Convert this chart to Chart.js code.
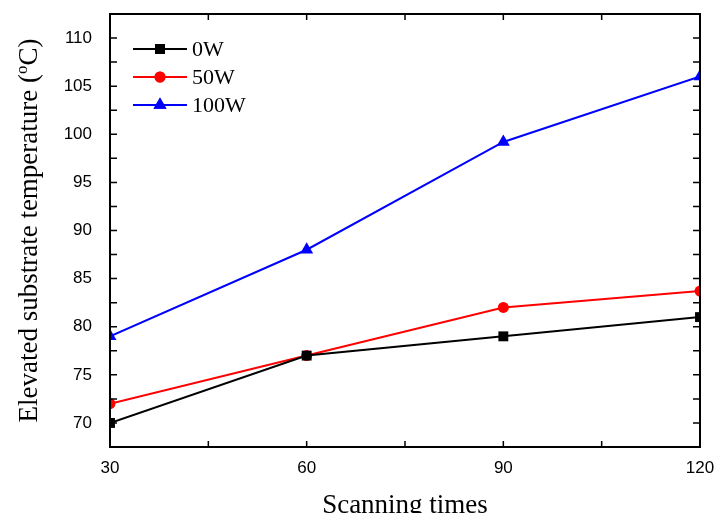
<!DOCTYPE html>
<html>
<head>
<meta charset="utf-8">
<script src="https://cdn.jsdelivr.net/npm/chart.js@4.4.1/dist/chart.umd.min.js"></script>
<style>
  html, body { margin: 0; padding: 0; background: #fff; }
  #wrap { width: 714px; height: 513px; }
</style>
</head>
<body>
<div id="wrap"><canvas id="chart" width="714" height="513"></canvas></div>
<script>
// data
const scanTimes = [30, 60, 90, 120];
const temp0W = [70, 77, 79, 81];
const temp50W = [72, 77, 82, 83.7];
const temp100W = [79, 88, 99.2, 106];
const seriesNames = ['0W', '50W', '100W'];
const xTickLabels = [30, 60, 90, 120];
const yTickLabels = [70, 75, 80, 85, 90, 95, 100, 105, 110];

const toXY = (ys) => ys.map((y, i) => ({ x: scanTimes[i], y: y }));

// inner ticks on all four sides + frame
const frameTicks = {
    id: 'frameTicks',
    afterDraw(chart) {
        const { ctx, chartArea: a, scales } = chart;
        ctx.save();
        ctx.strokeStyle = '#000';
        ctx.lineWidth = 2;
        ctx.strokeRect(a.left, a.top, a.right - a.left, a.bottom - a.top);
        ctx.lineWidth = 1.5;
        ctx.beginPath();
        for (let v = 45; v < 120; v += 15) {
            const px = scales.x.getPixelForValue(v);
            ctx.moveTo(px, a.bottom); ctx.lineTo(px, a.bottom - 6);
            ctx.moveTo(px, a.top); ctx.lineTo(px, a.top + 6);
        }
        for (let v = 70; v <= 110; v += 2.5) {
            const py = scales.y.getPixelForValue(v);
            ctx.moveTo(a.left, py); ctx.lineTo(a.left + 7, py);
            ctx.moveTo(a.right, py); ctx.lineTo(a.right - 7, py);
        }
        ctx.stroke();
        ctx.restore();
    }
};

// legend (line-marker-line) and the y title with superscript
const extras = {
    id: 'extras',
    afterDraw(chart) {
        const { ctx } = chart;
        ctx.save();
        chart.data.datasets.forEach((ds, i) => {
            const y = 49 + i * 28;
            ctx.strokeStyle = ds.borderColor;
            ctx.lineWidth = 2;
            ctx.beginPath();
            ctx.moveTo(133, y); ctx.lineTo(187, y);
            ctx.stroke();
            ctx.fillStyle = ds.borderColor;
            Chart.helpers.drawPoint(ctx, {
                pointStyle: ds.pointStyle, radius: ds.pointRadius, rotation: 0, borderWidth: 0
            }, 160, y);
            ctx.fill();
            ctx.fillStyle = '#000';
            ctx.font = '22px "Liberation Serif", "Times New Roman", serif';
            ctx.textAlign = 'left';
            ctx.textBaseline = 'middle';
            ctx.fillText(ds.label, 192, y + 1);
        });

        const a = chart.chartArea;
        ctx.translate(37, (a.top + a.bottom) / 2);
        ctx.rotate(-Math.PI / 2);
        ctx.fillStyle = '#000';
        ctx.textBaseline = 'alphabetic';
        const big = '27px "Liberation Serif", "Times New Roman", serif';
        const small = '17px "Liberation Serif", "Times New Roman", serif';
        const p1 = 'Elevated substrate temperature (', p2 = 'o', p3 = 'C)';
        ctx.font = big;
        const w1 = ctx.measureText(p1).width, w3 = ctx.measureText(p3).width;
        ctx.font = small;
        const w2 = ctx.measureText(p2).width;
        let x = -(w1 + w2 + w3) / 2;
        ctx.font = big; ctx.fillText(p1, x, 0); x += w1;
        ctx.font = small; ctx.fillText(p2, x, -10); x += w2;
        ctx.font = big; ctx.fillText(p3, x, 0);
        ctx.restore();
    }
};

new Chart(document.getElementById('chart'), {
    type: 'line',
    data: {
        datasets: [
            { label: seriesNames[0], data: toXY(temp0W), borderColor: '#000000', backgroundColor: '#000000',
              pointStyle: 'rect', pointRadius: 7 },
            { label: seriesNames[1], data: toXY(temp50W), borderColor: '#ff0000', backgroundColor: '#ff0000',
              pointStyle: 'circle', pointRadius: 5.5 },
            { label: seriesNames[2], data: toXY(temp100W), borderColor: '#0000ff', backgroundColor: '#0000ff',
              pointStyle: 'triangle', pointRadius: 7.5 }
        ]
    },
    options: {
        responsive: false,
        animation: false,
        clip: 0,
        elements: {
            line: { borderWidth: 2, tension: 0 },
            point: { borderWidth: 0, hoverRadius: 6 }
        },
        layout: { padding: { top: 14, right: 14, left: 0, bottom: 0 } },
        plugins: { legend: { display: false }, tooltip: { enabled: false } },
        scales: {
            x: {
                type: 'linear', min: 30, max: 120,
                afterFit: (s) => { s.height = 66; s.paddingLeft = 0; s.paddingRight = 0; },
                afterBuildTicks: (s) => { s.ticks = xTickLabels.map(v => ({ value: v })); },
                ticks: { color: '#000', padding: 3, font: { family: '"Liberation Sans", Arial, sans-serif', size: 17 } },
                grid: { display: false },
                border: { display: false },
                title: { display: true, text: 'Scanning times', color: '#000', padding: { top: 0, bottom: -9 },
                         font: { family: '"Liberation Serif", "Times New Roman", serif', size: 27 } }
            },
            y: {
                min: 67.5, max: 112.5,
                afterFit: (s) => { s.width = 110; s.paddingTop = 0; s.paddingBottom = 0; },
                afterBuildTicks: (s) => { s.ticks = yTickLabels.map(v => ({ value: v })); },
                ticks: { color: '#000', padding: 10, font: { family: '"Liberation Sans", Arial, sans-serif', size: 17 } },
                grid: { display: false },
                border: { display: false }
            }
        }
    },
    plugins: [frameTicks, extras]
});
</script>
</body>
</html>
